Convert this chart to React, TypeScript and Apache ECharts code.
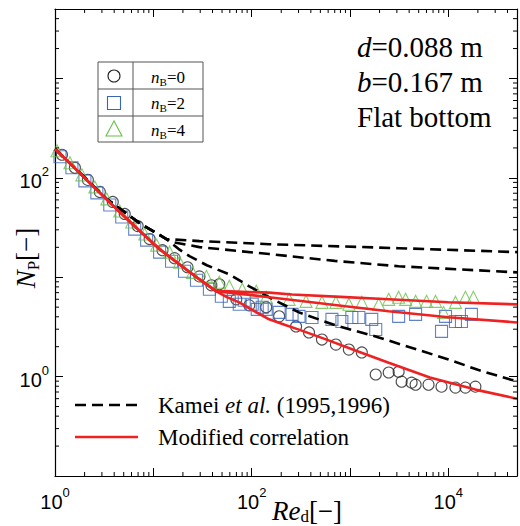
import React, { useEffect, useRef } from 'react';
import * as echarts from 'echarts';

const xMin = 1;
const xMax = 50000;
const yMin = 0.1;
const yMax = 5000;

// Modified correlation (red), shared laminar part then three branches
const redLaminar: [number, number][] = [[1, 196], [2, 100], [3.6, 56.6], [6.5, 32.4], [11.6, 19.1], [20.8, 12.3], [27.5, 10.0], [37.2, 8.1], [43.8, 7.2]];
const redNB0: [number, number][] = [[56, 6.3], [74.8, 5.58], [105, 4.6], [150.7, 3.77], [220, 3.3], [303, 2.97], [570, 2.37], [1100, 1.85], [2478, 1.38], [6500, 0.98], [18870, 0.74], [50000, 0.6]];
const redNB2: [number, number][] = [[60, 7.0], [80, 6.8], [150.7, 6.28], [303, 5.79], [900, 5.1], [2478, 4.54], [10000, 3.95], [50000, 3.51]];
const redNB4: [number, number][] = [[60, 7.2], [80, 7.15], [150.7, 7.0], [258, 6.7], [800, 6.35], [2478, 6.0], [10000, 5.6], [50000, 5.33]];

// Kamei et al. (black dashed)
const kameiLaminar: [number, number][] = [[1, 196], [3.37, 61], [7.26, 35], [13.6, 24.2]];
const kameiA: [number, number][] = [[29.45, 23.1], [150.7, 21.5], [3127, 19.6], [50000, 17.9]];
const kameiB: [number, number][] = [[15.7, 22.6], [29.45, 20.1], [150.7, 17.1], [700, 14.6], [3127, 12.9], [50000, 11.2]];
const kameiC: [number, number][] = [[18, 19.3], [23.3, 16.3], [35, 13.2], [59.3, 10.7], [94.6, 8.1], [170, 5.9], [303, 4.43], [700, 3.3], [1963, 2.48], [5000, 1.85], [10050, 1.49], [20000, 1.17], [43650, 0.93], [50000, 0.9]];

// Experimental data
const nB0: [number, number][] = [
  [1.177, 170.8], [1.594, 126.2], [2.16, 95.4], [2.857, 72.2], [3.87, 57.2], [5.12, 43.3], [6.93, 32.7], [9.17, 24.2],
  [12.4, 18.7], [16.44, 15.56], [22.26, 12.6], [29.45, 10.2], [38.97, 8.3], [46.9, 8.5], [69.8, 5.99], [94.6, 5.21],
  [140.6, 4.98], [190.5, 4.04], [283, 3.2], [383.3, 2.78], [519, 2.36], [719.6, 2.1], [974.7, 1.87], [1320, 1.75],
  [1829, 1.05], [2478, 1.1], [3127, 1.12], [3355, 0.89], [4236, 0.87], [4652, 0.83], [6296, 0.83], [8536, 0.793],
  [11830, 0.775], [14940, 0.775], [18870, 0.793]
];
const nB2: [number, number][] = [
  [1.124, 163], [1.486, 126.2], [2.014, 93.3], [2.665, 70.6], [3.607, 53.4], [4.773, 40.4], [6.464, 30.5], [8.55, 23.6],
  [11.58, 17.9], [15.32, 14.5], [20.76, 11.5], [27.47, 9.33], [37.2, 7.56], [49.2, 6.43], [59.3, 5.72], [74.8, 5.34],
  [84.1, 5.86], [101.4, 5.34], [114, 4.75], [128, 4.98], [140.6, 4.75], [190.5, 4.43], [257.8, 4.23], [303.4, 4.04],
  [411, 3.94], [655.6, 3.77], [827.6, 3.59], [1045, 3.94], [1231, 3.94], [1666, 3.77], [1829, 2.98], [3127, 4.04],
  [4652, 4.23], [8536, 2.85], [9372, 4.04], [11830, 3.59], [13610, 3.59], [17190, 4.23]
];
const nB4: [number, number][] = [
  [1.048, 187.4], [1.419, 141.7], [1.877, 107.2], [2.543, 81.1], [3.364, 61.4], [4.556, 46.4], [6.03, 35.9], [8.17, 27.2],
  [10.8, 21.05], [14.63, 17.9], [18.48, 14.2], [25.0, 11.2], [34.7, 10.2], [46.9, 8.9], [59.3, 8.1], [80.3, 7.56],
  [111.4, 7.22], [140.6, 6.28], [240.4, 5.99], [357.4, 5.72], [519, 5.59], [719.6, 5.59], [974.7, 5.34], [1320, 5.59],
  [1963, 5.34], [2478, 5.99], [3127, 6.28], [3682, 5.99], [4652, 5.72], [6012, 5.72], [7415, 5.72], [8940, 4.43],
  [11830, 5.59], [14940, 6.28], [18000, 6.28]
];

const xMinorTicks = [2, 3, 4, 5, 6, 7, 8, 9, 20, 30, 40, 50, 60, 70, 80, 90, 200, 300, 400, 500, 600, 700, 800, 900,
  2000, 3000, 4000, 5000, 6000, 7000, 8000, 9000, 20000, 30000, 40000];
const yMinorTicks = [0.2, 0.3, 0.4, 0.5, 0.6, 0.7, 0.8, 0.9, 2, 3, 4, 5, 6, 7, 8, 9, 20, 30, 40, 50, 60, 70, 80, 90,
  200, 300, 400, 500, 600, 700, 800, 900, 2000, 3000, 4000];

const SERIF = 'Liberation Serif';
const SANS = 'Liberation Sans';
const RED = '#ee2222';
const BLUE = '#3a64b8';
const GREEN = '#6abf4b';

const tickLabel = (v: number) => {
  const l = Math.log10(v);
  const e = Math.round(l);
  if (Math.abs(l - e) > 1e-6 || e % 2 !== 0) return '';
  return `{b|10}{s|${e}}`;
};
const tickRich = {
  b: { fontSize: 20, fontFamily: SANS, color: '#000', lineHeight: 26, verticalAlign: 'bottom' },
  s: { fontSize: 13, fontFamily: SANS, color: '#000', lineHeight: 13, verticalAlign: 'top' },
};

const serifRich = (size: number, lh?: number) => ({
  i: { fontSize: size, fontFamily: SERIF, fontStyle: 'italic', color: '#000', lineHeight: lh ?? size + 4 },
  n: { fontSize: size, fontFamily: SERIF, color: '#000', lineHeight: lh ?? size + 4 },
  s: { fontSize: Math.round(size * 0.62), fontFamily: SERIF, color: '#000', lineHeight: Math.round(size * 0.62), verticalAlign: 'bottom' },
});

export default function App() {
  const ref = useRef<HTMLDivElement>(null);
  useEffect(() => {
    if (!ref.current) return;
    const chart = echarts.init(ref.current, undefined, { renderer: 'svg' });
    const baseAxisX = {
      type: 'log', logBase: 10, min: xMin, max: xMax,
      axisLine: { show: true, lineStyle: { color: '#000', width: 1.2 } },
      axisTick: { show: true, inside: true, length: 8, lineStyle: { color: '#000', width: 1 } },
      splitLine: { show: false }, minorTick: { show: false }, minorSplitLine: { show: false },
    };
    const baseAxisY = {
      type: 'log', logBase: 10, min: yMin, max: yMax,
      axisLine: { show: true, lineStyle: { color: '#000', width: 1.2 } },
      axisTick: { show: true, inside: true, length: 8, lineStyle: { color: '#000', width: 1 } },
      splitLine: { show: false }, minorTick: { show: false }, minorSplitLine: { show: false },
    };
    const scatterStyle = (color: string) => ({ color: 'rgba(0,0,0,0)', borderColor: color, borderWidth: 1.1 });
    const dashed = { color: '#000', width: 2.6, type: [11, 6] as number[] };
    const solid = { color: RED, width: 2.6 };
    const lineSeries = (data: [number, number][], style: any, z: number) => ({
      type: 'line', data, symbol: 'none', smooth: false, lineStyle: style, z, silent: true,
    });
    const y0 = 405;
    const y1 = 437;
    const option: any = {
      animation: false,
      backgroundColor: '#fff',
      grid: { left: 55, right: 1, top: 9, bottom: 50 },
      xAxis: [
        { ...baseAxisX, position: 'bottom', axisLabel: { show: true, margin: 10, formatter: tickLabel, rich: tickRich } },
        { ...baseAxisX, position: 'top', axisLabel: { show: false } },
      ],
      yAxis: [
        { ...baseAxisY, position: 'left', axisLabel: { show: true, margin: 6, formatter: tickLabel, rich: tickRich } },
        { ...baseAxisY, position: 'right', axisLabel: { show: false } },
      ],
      series: [
        { type: 'scatter', data: nB0, symbol: 'circle', symbolSize: 11, itemStyle: scatterStyle('#222'), z: 2 },
        { type: 'scatter', data: nB2, symbol: 'rect', symbolSize: 12, itemStyle: scatterStyle(BLUE), z: 2 },
        { type: 'scatter', data: nB4, symbol: 'triangle', symbolSize: 12, itemStyle: scatterStyle(GREEN), z: 2 },
        lineSeries([...kameiLaminar, ...kameiA], dashed, 3),
        lineSeries([...kameiLaminar, ...kameiB], dashed, 3),
        lineSeries([...kameiLaminar, ...kameiC], dashed, 3),
        lineSeries([...redLaminar, ...redNB0], solid, 4),
        lineSeries([...redLaminar, ...redNB2], solid, 4),
        lineSeries([...redLaminar, ...redNB4], solid, 4),
        {
          type: 'custom', data: xMinorTicks.map((v) => [v, 1]), z: 5, silent: true,
          renderItem: (params: any, api: any) => {
            const cs = params.coordSys;
            const x = api.coord([api.value(0), 1])[0];
            const b = cs.y + cs.height;
            const t = cs.y;
            return {
              type: 'group', children: [
                { type: 'line', shape: { x1: x, y1: b, x2: x, y2: b - 4 }, style: { stroke: '#000', lineWidth: 1 } },
                { type: 'line', shape: { x1: x, y1: t, x2: x, y2: t + 4 }, style: { stroke: '#000', lineWidth: 1 } },
              ],
            };
          },
        },
        {
          type: 'custom', data: yMinorTicks.map((v) => [1, v]), z: 5, silent: true,
          renderItem: (params: any, api: any) => {
            const cs = params.coordSys;
            const y = api.coord([1, api.value(1)])[1];
            const l = cs.x;
            const r = cs.x + cs.width;
            return {
              type: 'group', children: [
                { type: 'line', shape: { x1: l, y1: y, x2: l + 4, y2: y }, style: { stroke: '#000', lineWidth: 1 } },
                { type: 'line', shape: { x1: r, y1: y, x2: r - 4, y2: y }, style: { stroke: '#000', lineWidth: 1 } },
              ],
            };
          },
        },
      ],
      graphic: [
        // axis names
        { type: 'text', x: 307, y: 511, style: { text: '{i|Re}{s|d}{n|[−]}', rich: serifRich(27, 27), align: 'center', verticalAlign: 'middle' } },
        { type: 'text', x: 26, y: 258, rotation: Math.PI / 2, style: { text: '{i|N}{s|P}{n|[−]}', rich: serifRich(27), align: 'center', verticalAlign: 'middle' } },
        // annotation
        { type: 'text', x: 357, y: 47, style: { text: '{i|d}{n|=0.088 m}', rich: serifRich(29), align: 'left', verticalAlign: 'middle' } },
        { type: 'text', x: 357, y: 82, style: { text: '{i|b}{n|=0.167 m}', rich: serifRich(29), align: 'left', verticalAlign: 'middle' } },
        { type: 'text', x: 357, y: 117, style: { text: '{n|Flat bottom}', rich: serifRich(29), align: 'left', verticalAlign: 'middle' } },
        // marker legend box
        { type: 'rect', shape: { x: 98, y: 62, width: 105, height: 80 }, style: { fill: '#fff', stroke: '#555', lineWidth: 1 }, z: 10 },
        { type: 'line', shape: { x1: 133, y1: 62, x2: 133, y2: 142 }, style: { stroke: '#555', lineWidth: 1 }, z: 11 },
        { type: 'line', shape: { x1: 98, y1: 89, x2: 203, y2: 89 }, style: { stroke: '#555', lineWidth: 1 }, z: 11 },
        { type: 'line', shape: { x1: 98, y1: 116, x2: 203, y2: 116 }, style: { stroke: '#555', lineWidth: 1 }, z: 11 },
        { type: 'circle', shape: { cx: 114, cy: 76, r: 6 }, style: { fill: 'none', stroke: '#222', lineWidth: 1.1 }, z: 11 },
        { type: 'rect', shape: { x: 107.5, y: 96.5, width: 13, height: 13 }, style: { fill: 'none', stroke: BLUE, lineWidth: 1.1 }, z: 11 },
        { type: 'polygon', shape: { points: [[114, 121], [106, 136], [122, 136]] }, style: { fill: 'none', stroke: GREEN, lineWidth: 1.1 }, z: 11 },
        { type: 'text', x: 168, y: 77, style: { text: '{i|n}{s|B}{n|=0}', rich: serifRich(17), align: 'center', verticalAlign: 'middle' }, z: 11 },
        { type: 'text', x: 168, y: 103, style: { text: '{i|n}{s|B}{n|=2}', rich: serifRich(17), align: 'center', verticalAlign: 'middle' }, z: 11 },
        { type: 'text', x: 168, y: 130, style: { text: '{i|n}{s|B}{n|=4}', rich: serifRich(17), align: 'center', verticalAlign: 'middle' }, z: 11 },
        // line legend
        { type: 'line', shape: { x1: 75, y1: y0, x2: 138, y2: y0 }, style: { stroke: '#000', lineWidth: 2.6, lineDash: [11, 6] } },
        { type: 'line', shape: { x1: 75, y1: y1, x2: 138, y2: y1 }, style: { stroke: RED, lineWidth: 2.6 } },
        { type: 'text', x: 158, y: y0, style: { text: '{n|Kamei }{i|et al.}{n| (1995,1996)}', rich: serifRich(23), align: 'left', verticalAlign: 'middle' } },
        { type: 'text', x: 158, y: y1, style: { text: '{n|Modified correlation}', rich: serifRich(23), align: 'left', verticalAlign: 'middle' } },
      ],
    };
    chart.setOption(option);
    return () => chart.dispose();
  }, []);
  return <div ref={ref} style={{ position: 'fixed', left: 0, top: 0, width: 520, height: 526, background: '#fff' }} />;
}
